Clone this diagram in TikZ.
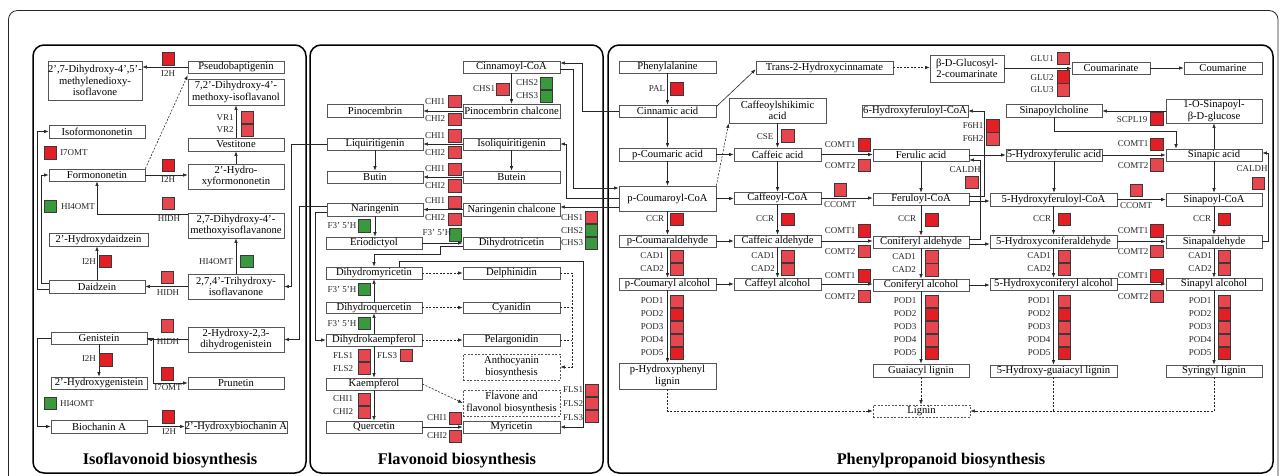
\documentclass[tikz,border=0pt]{standalone}
\usepackage{fontspec}
\setmainfont{Liberation Serif}
\usetikzlibrary{arrows.meta}
\definecolor{rb}{HTML}{E31E24}
\definecolor{rl}{HTML}{E8464E}
\definecolor{gr}{HTML}{3B993D}
\definecolor{boxc}{HTML}{555555}
\definecolor{sqc}{HTML}{3A3A3A}
\newcounter{sqn}\newcounter{lbn}
\newcommand\boxfont{\fontsize{10.6}{11.4}\selectfont}
\newcommand\labfont{\fontsize{9}{9.5}\selectfont}
\newcommand\Bx[6]{\node[box,minimum width={(#4-#2)*1pt},minimum height={(#5-#3)*1pt}] (#1) at ({(#2+#4)/2},{(#3+#5)/2}) {#6};}
\newcommand\Bd[6]{\node[box,dbox,minimum width={(#4-#2)*1pt},minimum height={(#5-#3)*1pt}] (#1) at ({(#2+#4)/2},{(#3+#5)/2}) {#6};}
\newcommand\Sq[3]{\stepcounter{sqn}\node[sq,fill=#3] (sq\arabic{sqn}) at (#1,#2) {};}
\newcommand\Lb[3]{\stepcounter{lbn}\node[lab] (lb\arabic{lbn}) at (#1,#2) {#3};}
\tikzset{
  box/.style={draw=boxc,line width=0.7pt,fill=white,inner sep=0pt,align=center,font=\boxfont},
  dbox/.style={dash pattern=on 2pt off 1.5pt},
  sq/.style={draw=sqc,line width=0.6pt,minimum size=12.5pt,inner sep=0pt},
  lab/.style={font=\labfont,inner sep=0pt,text=black!85},
  arr/.style={-{Latex[length=4.5pt,width=3.4pt]},line width=0.6pt,draw=black!85},
  con/.style={line width=0.6pt,draw=black!85},
  dsh/.style={dash pattern=on 2pt off 1.5pt},
  panel/.style={draw=black,line width=1.5pt,rounded corners=11pt,fill=white},
  ttl/.style={font=\fontsize{16.3}{18}\selectfont\bfseries,inner sep=0pt}
}
\begin{document}
\begin{tikzpicture}[x=1pt,y=-1pt]
\useasboundingbox (0,0) rectangle (1281,475);
\fill[white] (0,0) rectangle (1281,475);
\draw[line width=0.8pt,draw=black!85,rounded corners=9pt] (8.5,10.5) rectangle (1278,490);
% panels
\draw[panel] (33,45) rectangle (306,473);
\draw[panel] (310,45) rectangle (603,473);
\draw[panel] (608,45) rectangle (1273,473);
\node[ttl] (tiso) at (170,461) {Isoflavonoid biosynthesis};
\node[ttl] (tfla) at (457,461) {Flavonoid biosynthesis};
\node[ttl] (tphe) at (941,461) {Phenylpropanoid biosynthesis};

% ---------- Isoflavonoid boxes
\Bx{dmi}{48}{61}{142}{100}{2',7-Dihydroxy-4',5'-\\methylenedioxy-\\isoflavone}
\Bx{pseudo}{188}{61}{284}{73}{Pseudobaptigenin}
\Bx{dhmi}{188}{79}{284}{105}{7,2'-Dihydroxy-4'-\\methoxy-isoflavanol}
\Bx{vest}{188}{138}{284}{151}{Vestitone}
\Bx{isoform}{49}{125}{145}{138}{Isoformononetin}
\Bx{form}{49}{169}{145}{181}{Formononetin}
\Bx{hform}{188}{164}{284}{189}{2'-Hydro-\\xyformononetin}
\Bx{dmiso}{188}{213}{284}{238}{2,7-Dihydroxy-4'-\\methoxyisoflavanone}
\Bx{hdaid}{49}{233}{148}{246}{2'-Hydroxydaidzein}
\Bx{daid}{49}{280}{145}{293}{Daidzein}
\Bx{thi}{188}{274}{284}{299}{2,7,4'-Trihydroxy-\\isoflavanone}
\Bx{gen}{51}{332}{147}{344}{Genistein}
\Bx{hdg}{188}{327}{284}{352}{2-Hydroxy-2,3-\\dihydrogenistein}
\Bx{hgen}{51}{377}{147}{389}{2'-Hydroxygenistein}
\Bx{prun}{188}{377}{284}{389}{Prunetin}
\Bx{bioA}{51}{420}{147}{433}{Biochanin A}
\Bx{hbioA}{185}{421}{287}{433}{2'-Hydroxybiochanin A}

% ---------- Flavonoid boxes
\Bx{cinco}{463}{61}{560}{73}{Cinnamoyl-CoA}
\Bx{pinch}{463}{104}{560}{118}{Pinocembrin chalcone}
\Bx{pino}{327}{104}{423}{117}{Pinocembrin}
\Bx{liq}{327}{138}{423}{150}{Liquiritigenin}
\Bx{iliq}{463}{138}{560}{150}{Isoliquiritigenin}
\Bx{butin}{327}{171}{423}{183}{Butin}
\Bx{butein}{463}{171}{560}{183}{Butein}
\Bx{nar}{327}{203}{423}{216}{Naringenin}
\Bx{narch}{463}{203}{560}{216}{Naringenin chalcone}
\Bx{erio}{326}{237}{422}{249}{Eriodictyol}
\Bx{dhtri}{463}{237}{560}{249}{Dihydrotricetin}
\Bx{dhmyr}{326}{267}{422}{279}{Dihydromyricetin}
\Bx{delph}{463}{267}{560}{279}{Delphinidin}
\Bx{dhq}{326}{302}{422}{313}{Dihydroquercetin}
\Bx{cyan}{463}{302}{560}{313}{Cyanidin}
\Bx{dhk}{326}{334}{422}{346}{Dihydrokaempferol}
\Bx{pel}{463}{334}{560}{346}{Pelargonidin}
\Bd{antho}{463}{354}{560}{380}{Anthocyanin\\biosynthesis}
\Bx{kaem}{326}{378}{422}{390}{Kaempferol}
\Bd{flav}{463}{390}{560}{416}{Flavone and\\flavonol biosynthesis}
\Bx{quer}{326}{421}{422}{433}{Quercetin}
\Bx{myr}{463}{421}{560}{433}{Myricetin}

% ---------- Phenylpropanoid boxes
\Bx{phe}{619}{61}{716}{73}{Phenylalanine}
\Bx{t2h}{756}{61}{893}{74}{Trans-2-Hydroxycinnamate}
\Bx{bdg}{930}{55}{1004}{82}{β-D-Glucosyl-\\2-coumarinate}
\Bx{coum}{1072}{62}{1150}{74}{Coumarinate}
\Bx{coumarine}{1184}{62}{1262}{74}{Coumarine}
\Bx{cin}{619}{105}{716}{117}{Cinnamic acid}
\Bx{csa}{729}{98}{826}{123}{Caffeoylshikimic\\acid}
\Bx{hfcoa}{862}{105}{968}{117}{6-Hydroxyferuloyl-CoA}
\Bx{sinch}{1006}{104}{1102}{117}{Sinapoylcholine}
\Bx{osg}{1166}{99}{1262}{123}{1-O-Sinapoyl-\\β-D-glucose}
\Bx{pca}{619}{148}{716}{161}{p-Coumaric acid}
\Bx{caf}{734}{148}{821}{161}{Caffeic acid}
\Bx{fer}{873}{149}{969}{161}{Ferulic acid}
\Bx{hfa}{1006}{149}{1102}{161}{5-Hydroxyferulic acid}
\Bx{sina}{1166}{149}{1262}{161}{Sinapic acid}
\Bx{pcoa}{619}{186}{716}{211}{p-Coumaroyl-CoA}
\Bx{cafcoa}{734}{192}{821}{204}{Caffeoyl-CoA}
\Bx{fercoa}{873}{193}{969}{205}{Feruloyl-CoA}
\Bx{h5fcoa}{990}{193}{1117}{206}{5-Hydroxyferuloyl-CoA}
\Bx{sincoa}{1166}{193}{1262}{206}{Sinapoyl-CoA}
\Bx{pcald}{619}{235}{716}{247}{p-Coumaraldehyde}
\Bx{cafald}{734}{235}{821}{247}{Caffeic aldehyde}
\Bx{conald}{873}{236}{969}{248}{Coniferyl aldehyde}
\Bx{hconald}{990}{235}{1117}{248}{5-Hydroxyconiferaldehyde}
\Bx{sinald}{1166}{235}{1262}{248}{Sinapaldehyde}
\Bx{pcalc}{619}{278}{716}{290}{p-Coumaryl alcohol}
\Bx{cafalc}{734}{278}{821}{290}{Caffeyl alcohol}
\Bx{conalc}{873}{279}{969}{291}{Coniferyl alcohol}
\Bx{hconalc}{990}{278}{1117}{290}{5-Hydroxyconiferyl alcohol}
\Bx{sinalc}{1166}{278}{1262}{290}{Sinapyl alcohol}
\Bx{phl}{619}{363}{716}{389}{p-Hydroxyphenyl\\lignin}
\Bx{gl}{873}{364}{969}{377}{Guaiacyl lignin}
\Bx{hgl}{990}{365}{1117}{377}{5-Hydroxy-guaiacyl lignin}
\Bx{sl}{1166}{365}{1262}{377}{Syringyl lignin}
\Bd{lignin}{873}{405}{970}{417}{Lignin}

% ---------- Isoflavonoid connectors
\draw[arr] (pseudo.west) -- (pseudo.west -| dmi.east);
\draw[arr,dsh] (form.north east) -- ([yshift=-2pt]pseudo.south west);
\draw[arr] (vest.north) -- (dhmi.south);
\draw[arr] (form.east) -- (form.east -| hform.west);
\draw[arr] (hform.north) -- (vest.south);
\draw[arr] ([yshift=-2pt]dmiso.north west) -| (form.south);
\draw[arr] (daid.north) -- (daid.north |- hdaid.south);
\draw[arr] (thi.north) -- (dmiso.south);
\draw[arr] (thi.west) -- (thi.west -| daid.east);
\draw[arr] ([yshift=-2.5pt]daid.west) -- ++(-11,0) |- (isoform.west);
\draw[arr] ([yshift=3pt]daid.west) -- ++(-7,0) |- (form.west);
\draw[arr] (liq.west) -- ++(-35,0) |- (thi.east);
\draw[arr] ([yshift=3pt]nar.west) -- ++(-27,0) |- (hdg.east);
\draw[arr] ([yshift=-3pt]nar.west) -- ++(-11,0) |- (dhk.west);
\draw[arr] (hdg.west) -- (hdg.west -| gen.east);
\draw[arr] (gen.south) -- (gen.south |- hgen.north);
\draw[arr] (gen.east) -- ++(6,0) |- (prun.west);
\draw[arr] (gen.west) -- ++(-13,0) |- (bioA.west);
\draw[arr] (bioA.east) -- (bioA.east -| hbioA.west);

% ---------- Flavonoid connectors
\draw[arr] (cinco.south) -- (pinch.north);
\draw[arr] (pinch.west) -- (pinch.west -| pino.east);
\draw[arr] (iliq.west) -- (liq.east);
\draw[arr] (butein.west) -- (butin.east);
\draw[arr] (narch.west) -- (nar.east);
\draw[arr] (liq.south) -- (butin.north);
\draw[arr] (iliq.south) -- (butein.north);
\draw[arr] (nar.south) -- (nar.south |- erio.north);
\draw[arr] (erio.east) -- (erio.east -| dhtri.west);
\draw[arr] ([yshift=-3pt]dhtri.west) -| (440,254) -| (dhmyr.north);
\draw[arr] (dhq.north) -- (dhmyr.south);
\draw[arr] (dhk.north) -- (dhq.south);
\draw[arr,dsh] (dhmyr.east) -- (delph.west);
\draw[arr,dsh] (dhq.east) -- (cyan.west);
\draw[arr,dsh] (dhk.east) -- (pel.west);
\draw[arr,dsh] (delph.east) -- ++(12,0) |- (antho.east);
\draw[con,dsh] (cyan.east) -- ++(12,0);
\draw[con,dsh] (pel.east) -- ++(12,0);
\draw[arr] ([xshift=25pt]dhmyr.north) |- (583,261) |- (myr.east);
\draw[arr] (dhk.south) -- (kaem.north);
\draw[arr] (kaem.south) -- (quer.north);
\draw[arr,dsh] (kaem.east) -- (flav.west);
\draw[arr] (quer.east) -- (myr.west);

% ---------- cross-panel connectors
\draw[arr] (cin.west) -- ++(-36,0) |- ([yshift=4pt]cinco.east);
\draw[arr] ([yshift=-2pt]cinco.east) -- ++(13,0) |- ([yshift=10.5pt]pcoa.west);
\draw[arr] (pcoa.west) -- ++(-52,0) |- (iliq.east);
\draw[arr] ([yshift=-8.5pt]pcoa.west) -- ([yshift=-8.5pt]pcoa.west -| narch.east);

% ---------- Phenylpropanoid connectors
\draw[arr] (phe.south) -- (cin.north);
\draw[arr] ([yshift=-2pt]cin.north east) -- ([yshift=5pt]t2h.south west);
\draw[arr,dsh] (t2h.east) -- (t2h.east -| bdg.west);
\draw[arr] (bdg.east) -- (bdg.east -| coum.west);
\draw[arr] (coum.east) -- (coumarine.west);
\draw[arr] (cin.south) -- (pca.north);
\draw[arr] (pca.south) -- (pca.south |- pcoa.north);
\draw[arr] (pca.east) -- (caf.west);
\draw[arr,dsh] (pcoa.north east) -- (csa.south west);
\draw[arr] (csa.south) -- (caf.north);
\draw[arr] (caf.east) -- (caf.east -| fer.west);
\draw[arr] (caf.south) -- (cafcoa.north);
\draw[arr] (pcoa.east) -- (pcoa.east -| cafcoa.west);
\draw[arr] (cafcoa.east) -- (cafcoa.east -| fercoa.west);
\draw[arr] (fer.south) -- (fer.south |- fercoa.north);
\draw[arr] ([yshift=3pt]fercoa.east) -- ++(15,0) |- (hfcoa.east);
\draw[arr] ([yshift=-2pt]fercoa.east) -- ([yshift=-2pt]fercoa.east -| h5fcoa.west);
\draw[arr] ([yshift=3pt]conald.east) -- ++(11,0) |- ([yshift=-5pt]fer.east);
\draw[arr] ([yshift=-2pt]conald.east) -- ([yshift=-2pt]conald.east -| hconald.west);
\draw[arr] (fer.east) -- (fer.east -| hfa.west);
\draw[arr] (hfa.east) -- (hfa.east -| sina.west);
\draw[arr] (hfa.south) -- (hfa.south |- h5fcoa.north);
\draw[arr] (osg.west) -- (osg.west -| sinch.east);
\draw[arr] (sinch.south) -- ++(0,14) -| ([xshift=-38pt]sina.north);
\draw[arr] (sina.north) -- (sina.north |- osg.south);
\draw[arr] (sina.south) -- (sincoa.north);
\draw[arr] (h5fcoa.east) -- (h5fcoa.east -| sincoa.west);
\draw[arr] (sinald.east) -- ++(6,0) |- ([yshift=2pt]sina.east);
\draw[arr] (pcoa.south) -- (pcoa.south |- pcald.north);
\draw[arr] (cafcoa.south) -- (cafald.north);
\draw[arr] (fercoa.south) -- (fercoa.south |- conald.north);
\draw[arr] (h5fcoa.south) -- (h5fcoa.south |- hconald.north);
\draw[arr] (sincoa.south) -- (sinald.north);
\draw[arr] (pcald.east) -- (pcald.east -| cafald.west);
\draw[arr] (cafald.east) -- (cafald.east -| conald.west);
\draw[arr] (hconald.east) -- (hconald.east -| sinald.west);
\draw[arr] (pcald.south) -- (pcalc.north);
\draw[arr] (cafald.south) -- (cafalc.north);
\draw[arr] (conald.south) -- (conalc.north);
\draw[arr] (hconald.south) -- (hconalc.north);
\draw[arr] (sinald.south) -- (sinalc.north);
\draw[arr] (pcalc.east) -- (pcalc.east -| cafalc.west);
\draw[arr] (cafalc.east) -- (cafalc.east -| conalc.west);
\draw[arr] (conalc.east) -- (conalc.east -| hconalc.west);
\draw[arr] (hconalc.east) -- (hconalc.east -| sinalc.west);
\draw[arr] (pcalc.south) -- (pcalc.south |- phl.north);
\draw[arr] (conalc.south) -- (gl.north);
\draw[arr] (hconalc.south) -- (hconalc.south |- hgl.north);
\draw[arr] (sinalc.south) -- (sl.north);
\draw[arr,dsh] (phl.south) |- (lignin.west);
\draw[arr,dsh] (gl.south) -- (gl.south |- lignin.north);
\draw[con,dsh] (hgl.south) -- ++(0,34);
\draw[arr,dsh] (sl.south) |- (lignin.east);

% ---------- enzyme squares: isoflavonoid
\Sq{168.5}{59}{rb}
\Sq{247.5}{117.5}{rl}\Sq{247.5}{130.5}{rl}
\Sq{50.5}{153}{rb}
\Sq{168.5}{165.5}{rb}
\Sq{50.5}{206.5}{gr}
\Sq{168.5}{203.5}{rl}
\Sq{105.5}{261.5}{rb}
\Sq{247}{261.5}{gr}
\Sq{167.5}{277.5}{rl}
\Sq{167.5}{326}{rl}
\Sq{106}{360}{rb}
\Sq{167.5}{374}{rb}
\Sq{50.5}{403.5}{gr}
\Sq{168.5}{417}{rb}
% labels isoflavonoid
\Lb{168}{74}{I2H}
\Lb{225}{117.5}{VR1}\Lb{225}{130}{VR2}
\Lb{74}{153}{I7OMT}
\Lb{168}{180}{I2H}
\Lb{78}{206.5}{HI4OMT}
\Lb{169}{219}{HIDH}
\Lb{89}{262}{I2H}
\Lb{216}{262}{HI4OMT}
\Lb{168}{293}{HIDH}
\Lb{168}{342}{HIDH}
\Lb{89}{359}{I2H}
\Lb{168}{388}{I7OMT}
\Lb{77}{404}{HI4OMT}
\Lb{169}{432}{I2H}

% ---------- flavonoid squares
\Sq{503}{89.5}{rl}
\Sq{546.5}{83.5}{gr}\Sq{546.5}{96.5}{gr}
\Sq{455}{101.5}{rl}\Sq{455}{119.5}{rl}
\Sq{455}{136}{rl}\Sq{455}{152.5}{rl}
\Sq{455}{169.5}{rl}\Sq{455}{186}{rl}
\Sq{455}{202.5}{rl}\Sq{455}{219.5}{rl}
\Sq{591.5}{217.5}{rl}\Sq{591.5}{230.5}{gr}\Sq{591.5}{243.5}{gr}
\Sq{364.5}{226}{gr}
\Sq{455.5}{235}{gr}
\Sq{364.5}{289.5}{gr}
\Sq{364.5}{323.5}{gr}
\Sq{364.5}{355.5}{rl}\Sq{364.5}{368.5}{rl}
\Sq{406.5}{355.5}{rl}
\Sq{364.5}{399.5}{rl}\Sq{364.5}{412.5}{rl}
\Sq{455.5}{418.5}{rl}
\Sq{455.5}{436.5}{rl}
\Sq{592}{390.5}{rl}\Sq{592}{403.5}{rl}\Sq{592}{416.5}{rl}
% labels flavonoid
\Lb{484}{89}{CHS1}
\Lb{527}{83}{CHS2}\Lb{527}{96}{CHS3}
\Lb{435}{102}{CHI1}\Lb{435}{119}{CHI2}
\Lb{435}{136}{CHI1}\Lb{435}{153}{CHI2}
\Lb{435}{168.5}{CHI1}\Lb{435}{186}{CHI2}
\Lb{435}{201}{CHI1}\Lb{435}{218}{CHI2}
\Lb{572}{218}{CHS1}\Lb{572}{231}{CHS2}\Lb{572}{243}{CHS3}
\Lb{342}{226}{F3' 5'H}
\Lb{437}{233}{F3' 5'H}
\Lb{342}{289.5}{F3' 5'H}
\Lb{342}{323.5}{F3' 5'H}
\Lb{343}{356}{FLS1}\Lb{343}{369}{FLS2}
\Lb{387}{356}{FLS3}
\Lb{343}{398.5}{CHI1}\Lb{343}{412}{CHI2}
\Lb{437}{418}{CHI1}\Lb{437}{436}{CHI2}
\Lb{573}{390}{FLS1}\Lb{573}{404}{FLS2}\Lb{573}{418}{FLS3}

% ---------- phenylpropanoid squares
\Sq{677}{89}{rb}
\Sq{788}{136}{rl}
\Sq{864.5}{145}{rb}\Sq{864.5}{165.5}{rl}
\Sq{840.5}{190}{rl}
\Sq{993}{126}{rb}\Sq{993}{139}{rl}
\Sq{972}{182.5}{rl}
\Sq{677}{219.5}{rb}\Sq{788}{219.5}{rb}\Sq{932}{220}{rb}
\Sq{864.5}{231}{rb}\Sq{864.5}{251.5}{rl}
\Sq{677}{256.5}{rl}\Sq{677}{269.5}{rl}
\Sq{788}{256.5}{rl}\Sq{788}{269.5}{rl}
\Sq{932}{257}{rl}\Sq{932}{270}{rl}
\Sq{864.5}{276}{rb}\Sq{864.5}{296.5}{rl}
\foreach \xx in {677,932,1064.5,1224.5}{
  \Sq{\xx}{301.5}{rl}\Sq{\xx}{314.5}{rb}\Sq{\xx}{327.5}{rl}\Sq{\xx}{340.5}{rl}\Sq{\xx}{353.5}{rb}
}
\Sq{1063.5}{58.5}{rl}\Sq{1063.5}{77}{rb}\Sq{1063.5}{90}{rl}
\Sq{1157}{119}{rb}
\Sq{1157}{144.5}{rb}\Sq{1157}{165}{rl}
\Sq{1136.5}{190.5}{rl}
\Sq{1258.5}{183.5}{rl}
\Sq{1064.5}{219.5}{rb}\Sq{1224.5}{219.5}{rb}
\Sq{1157}{231}{rb}\Sq{1157}{251.5}{rl}
\Sq{1064.5}{256.5}{rl}\Sq{1064.5}{269.5}{rl}
\Sq{1224.5}{256.5}{rl}\Sq{1224.5}{269.5}{rl}
\Sq{1157}{276}{rb}\Sq{1157}{296.5}{rl}
% labels phenylpropanoid
\Lb{657}{89}{PAL}
\Lb{765}{137}{CSE}
\Lb{840}{145}{COMT1}\Lb{840}{166}{COMT2}
\Lb{840}{204.5}{CCOMT}
\Lb{973}{126}{F6H1}\Lb{973}{139}{F6H2}
\Lb{965}{170}{CALDH}
\Lb{655}{219}{CCR}\Lb{765}{219}{CCR}\Lb{907}{219}{CCR}
\Lb{840}{231}{COMT1}\Lb{840}{252}{COMT2}
\Lb{652}{256}{CAD1}\Lb{652}{269}{CAD2}
\Lb{763}{256}{CAD1}\Lb{763}{269}{CAD2}
\Lb{904}{257}{CAD1}\Lb{904}{270}{CAD2}
\Lb{840}{276}{COMT1}\Lb{840}{297}{COMT2}
\foreach \xx in {652,905,1039,1200}{
  \Lb{\xx}{301}{POD1}\Lb{\xx}{314}{POD2}\Lb{\xx}{327}{POD3}\Lb{\xx}{340}{POD4}\Lb{\xx}{353}{POD5}
}
\Lb{1042}{59}{GLU1}\Lb{1042}{78}{GLU2}\Lb{1042}{90}{GLU3}
\Lb{1132}{120}{SCPL19}
\Lb{1133}{144}{COMT1}\Lb{1133}{166}{COMT2}
\Lb{1252}{169}{CALDH}
\Lb{1136}{206}{CCOMT}
\Lb{1042}{219}{CCR}\Lb{1202}{219}{CCR}
\Lb{1133}{231}{COMT1}\Lb{1133}{252}{COMT2}
\Lb{1039}{256}{CAD1}\Lb{1039}{269}{CAD2}
\Lb{1200}{256}{CAD1}\Lb{1200}{269}{CAD2}
\Lb{1133}{276}{COMT1}\Lb{1133}{297}{COMT2}
\end{tikzpicture}
\end{document}
